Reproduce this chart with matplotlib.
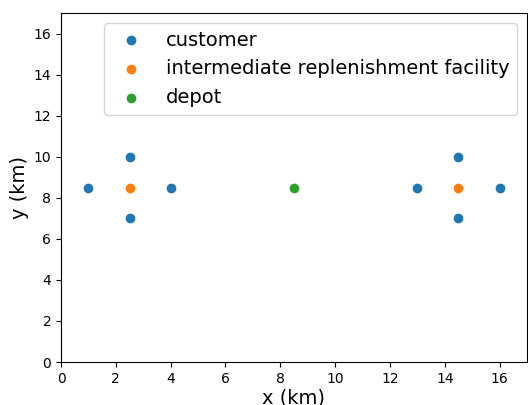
import matplotlib
matplotlib.use("Agg")
import matplotlib.pyplot as plt

# customer, IRF and depot locations (km)
cust_x = [1, 2.5, 2.5, 4, 13, 14.5, 14.5, 16]
cust_y = [8.5, 10, 7, 8.5, 8.5, 10, 7, 8.5]
irf_x = [2.5, 14.5]
irf_y = [8.5, 8.5]
depot_x = [8.5]
depot_y = [8.5]

fig = plt.figure(figsize=(5.28, 4.05), dpi=100)
ax = fig.add_axes([61/528, 43/405, 466/528, 349/405])
ax.scatter(cust_x, cust_y, label='customer')
ax.scatter(irf_x, irf_y, label='intermediate replenishment facility')
ax.scatter(depot_x, depot_y, label='depot')
ax.set_xlim(0, 17)
ax.set_ylim(0, 17)
ax.set_xticks(range(0, 17, 2))
ax.set_yticks(range(0, 17, 2))
ax.set_xlabel('x (km)', fontsize=14, labelpad=2)
ax.set_ylabel('y (km)', fontsize=14, labelpad=3)
ax.legend(loc='upper right', fontsize=14)
fig.savefig('out.png')
